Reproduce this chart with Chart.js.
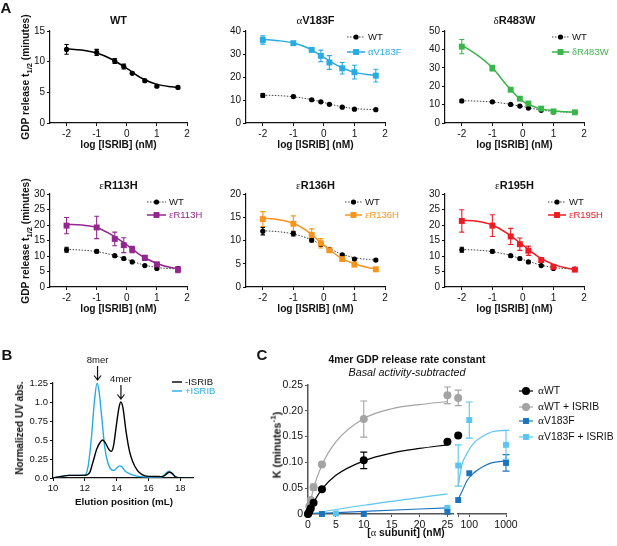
<!DOCTYPE html>
<html>
<head>
<meta charset="utf-8">
<script src="https://cdn.jsdelivr.net/npm/chart.js@4.4.1/dist/chart.umd.min.js"></script>
<style>
  html, body { margin: 0; padding: 0; background: #fff; }
  #fig { position: relative; width: 617px; height: 546px; overflow: hidden; background: #fff; }
  #fig canvas { position: absolute; }
  .t { position: absolute; white-space: nowrap; font-family: 'Liberation Sans', Arial, sans-serif;
       color: #111; line-height: 1; transform: translate(-50%, -50%); }
  .b { font-weight: bold; }
  .v { transform: translate(-50%, -50%) rotate(-90deg); }
  .g { font-family: 'Liberation Serif', serif; font-weight: normal; }
  sub, sup { font-size: 75%; line-height: 0; }
</style>
</head>
<body>
<div id="fig"></div>
<script>
// ---- Panel A: GDP release t1/2 vs log [ISRIB] ----
const logIsrib = [-2, -1, -0.4, -0.1, 0.18, 0.6, 1, 1.7];
const fitLog = [-2, -1.5, -1, -0.5, 0, 0.5, 1, 1.5, 1.7];
const xTicksA = [-2, -1, 0, 1, 2];

const wtT = [12.0, 11.5, 10.1, 9.2, 8.1, 6.9, 6.0, 5.8];
const wtErr = [0.8, 0.5, 0.4, 0.4, 0.2, 0.2, 0.2, 0.2];
const wtFit = [12.1, 11.9, 11.4, 10.4, 8.9, 7.3, 6.3, 5.9, 5.8];

const v183fT = [36.1, 34.7, 31.8, 29.2, 26.3, 23.8, 22.1, 20.6];
const v183fErr = [1.8, 0.5, 0.6, 2.5, 3.0, 2.5, 3.0, 2.8];
const v183fFit = [36.3, 35.8, 34.8, 32.5, 28.5, 24.6, 22.0, 21.0, 20.8];

const r483wT = [41.5, 29.8, 18.1, 13.2, 10.6, 7.8, 6.3, 5.8];
const r483wErr = [3.9, 1.5, 0.8, 0.6, 1.0, 0.5, 0.4, 0.4];
const r483wFit = [42.3, 37.0, 30.0, 20.0, 11.7, 8.1, 6.7, 6.0, 5.9];

const r113hT = [19.8, 19.2, 15.5, 13.5, 12.1, 9.4, 7.3, 5.6];
const r113hErr = [2.6, 3.6, 2.2, 2.4, 1.0, 0.8, 0.7, 1.0];
const r113hFit = [20.2, 20.0, 19.2, 16.8, 13.6, 10.0, 7.6, 6.2, 6.0];

const r136hT = [14.6, 13.6, 11.2, 9.4, 7.9, 6.0, 4.8, 3.8];
const r136hErr = [1.6, 1.7, 1.3, 1.0, 0.4, 0.4, 0.3, 0.4];
const r136hFit = [14.8, 14.5, 13.7, 11.8, 9.0, 6.5, 5.0, 4.1, 4.0];

const r195hT = [21.3, 19.8, 16.3, 13.8, 11.7, 8.7, 6.5, 5.6];
const r195hErr = [3.6, 3.5, 2.6, 2.0, 1.5, 0.6, 0.5, 0.4];
const r195hFit = [21.5, 21.2, 20.0, 17.2, 13.5, 9.8, 7.3, 6.0, 5.8];

// ---- Panel B: SEC traces ----
const minusX = [10, 10.5, 11, 11.5, 12, 12.3, 12.5, 12.75, 13.0, 13.12, 13.3, 13.5, 13.65, 13.8, 14.0, 14.15, 14.27, 14.4, 14.6, 14.8, 15.0, 15.3, 15.6, 16.0, 16.5, 16.8, 17.0, 17.3, 17.5, 17.7, 18.0, 18.5, 18.8];
const minusY = [0.0, 0.02, 0.035, 0.035, 0.035, 0.07, 0.2, 0.38, 0.48, 0.5, 0.46, 0.38, 0.35, 0.42, 0.72, 0.93, 1.0, 0.92, 0.6, 0.36, 0.22, 0.1, 0.045, 0.022, 0.02, 0.018, 0.03, 0.075, 0.06, 0.015, 0.003, 0.0, 0.0];
const plusX = [10, 10.5, 11, 11.5, 12, 12.2, 12.42, 12.6, 12.77, 12.9, 13.04, 13.25, 13.46, 13.67, 13.83, 14.0, 14.2, 14.3, 14.5, 14.8, 15.33, 15.96, 16.58, 16.9, 17.17, 17.3, 17.5, 17.83, 18.25, 18.8];
const plusY = [0.0, 0.02, 0.035, 0.035, 0.04, 0.145, 0.54, 1.0, 1.25, 1.13, 0.85, 0.41, 0.19, 0.11, 0.10, 0.13, 0.16, 0.155, 0.10, 0.057, 0.022, 0.013, 0.005, 0.02, 0.075, 0.088, 0.05, 0.004, 0.0, 0.0];
const xTicksB = [10, 12, 14, 16, 18];
const yTicksB = [0, 0.25, 0.5, 0.75, 1, 1.25];
const yLabelsB = ['0.0', '0.25', '0.5', '0.75', '1.0', '1.25'];

// ---- Panel C: rate constant vs [alpha subunit] ----
const wtConc = [0, 0.25, 0.5, 1, 2.5, 10, 25];
const wtK = [0, 0.005, 0.011, 0.022, 0.048, 0.104, 0.14];
const wtKErr = [0, 0, 0, 0, 0.002, 0.016, 0];
const wtIsribK = [0, 0.015, 0.027, 0.052, 0.096, 0.184, 0.23];
const wtIsribKErr = [0, 0.003, 0.003, 0.006, 0.003, 0.035, 0.016];
const v183fConc = [0, 2.5, 10, 25];
const v183fK = [0, 0.0, 0.0, 0.004];
const v183fIsribConc = [0, 5, 25];
const v183fIsribK = [0, 0.001, 0.012];

const highConcWt = [50];
const wtKHigh = [0.152];
const wtIsribKHigh = [0.225];
const wtIsribKHighErr = [0.015];
const highConc = [50, 100, 1000];
const v183fKHigh = [0.027, 0.079, 0.099];
const v183fKHighErr = [0, 0, 0.016];
const v183fIsribKHigh = [0.094, 0.182, 0.134];
const v183fIsribKHighErr = [0.04, 0.035, 0.028];

const fitLowX = [0, 1, 2.5, 5, 10, 15, 20, 25];
const wtFitLow = [0, 0.022, 0.048, 0.075, 0.103, 0.118, 0.127, 0.134];
const wtIsribFitLow = [0, 0.05, 0.095, 0.14, 0.185, 0.204, 0.212, 0.218];
const linFitX = [0, 10, 25];
const v183fFitLow = [0, 0.005, 0.012];
const v183fIsribFitLow = [0, 0.017, 0.039];
const fitHighX = [50, 63, 86, 130, 240, 400, 1000];
const v183fFitHigh = [0.029, 0.043, 0.064, 0.079, 0.092, 0.099, 0.103];
const v183fIsribFitHigh = [0.054, 0.095, 0.117, 0.137, 0.151, 0.159, 0.162];

const xTicksC = [0, 5, 10, 15, 20, 25];
const xTicksCHigh = [50, 100, 1000];
const xLabelsCHigh = ['', '100', '1000'];
const yTicksC = [0, 0.05, 0.1, 0.15, 0.2, 0.25];
const yLabelsC = ['0', '0.05', '0.10', '0.15', '0.20', '0.25'];

// colours
const BLUE = '#29ABE2', GREEN = '#3AB54A', PURPLE = '#93278F', ORANGE = '#F7941D', RED = '#ED1C24';
const GRAY = '#A3A3A3', DKBLUE = '#1C75BC', LTBLUE = '#5BC5F0';
const SANS = "'Liberation Sans', Arial, sans-serif";

const fig = document.getElementById('fig');

function label(html, x, y, cls, size) {
  const d = document.createElement('div');
  d.className = 't ' + (cls || '');
  d.style.left = x + 'px';
  d.style.top = y + 'px';
  d.style.fontSize = size + 'px';
  d.innerHTML = html;
  fig.appendChild(d);
}

function points(name, xs, ys, errs, color, style, r, cap) {
  return {
    label: name, data: xs.map((x, i) => ({x: x, y: ys[i]})), errors: errs, capW: cap,
    showLine: false, pointStyle: style, pointRadius: r, pointBorderWidth: 0,
    backgroundColor: color, borderColor: color, clip: false
  };
}

function curve(name, xs, ys, color, width, dash) {
  return {
    label: name, data: xs.map((x, i) => ({x: x, y: ys[i]})),
    showLine: true, pointRadius: 0, borderColor: color, borderWidth: width,
    borderDash: dash || [], cubicInterpolationMode: 'monotone', fill: false
  };
}

function axis(min, max, ticks, size, labels, type, col, bw) {
  return {
    type: type || 'linear', min: min, max: max,
    afterBuildTicks: s => { s.ticks = ticks.map(v => ({value: v})); },
    ticks: {
      font: {size: size, family: SANS}, color: '#111', padding: 2, autoSkip: false, maxRotation: 0,
      callback: labels ? ((v, i) => labels[i]) : (v => String(v))
    },
    grid: {display: true, drawOnChartArea: false, drawTicks: true, tickLength: 3, color: col || '#111', lineWidth: 1},
    border: {display: true, color: col || '#111', width: bw || 1.2}
  };
}

// error bars, drawn under the markers
const errorBars = {
  id: 'errorBars',
  beforeDatasetsDraw(chart) {
    const ctx = chart.ctx, xs = chart.scales.x, ys = chart.scales.y;
    chart.data.datasets.forEach(ds => {
      if (!ds.errors) return;
      ctx.save();
      ctx.strokeStyle = ds.borderColor;
      ctx.lineWidth = 1.1;
      ds.data.forEach((p, i) => {
        const e = ds.errors[i];
        if (!e) return;
        const px = xs.getPixelForValue(p.x);
        const top = ys.getPixelForValue(p.y + e), bot = ys.getPixelForValue(p.y - e);
        const c = ds.capW || 2.5;
        ctx.beginPath();
        ctx.moveTo(px, top); ctx.lineTo(px, bot);
        ctx.moveTo(px - c, top); ctx.lineTo(px + c, top);
        ctx.moveTo(px - c, bot); ctx.lineTo(px + c, bot);
        ctx.stroke();
      });
      ctx.restore();
    });
  }
};

function richText(ctx, s, x, y, size, color) {
  let cx = x;
  ctx.fillStyle = color;
  ctx.textBaseline = 'middle';
  s.split(/([αδε])/).forEach(run => {
    if (!run) return;
    ctx.font = /[αδε]/.test(run) ? (size + 1) + "px 'Liberation Serif'" : size + 'px ' + SANS;
    ctx.fillText(run, cx, y);
    cx += ctx.measureText(run).width;
  });
}

function marker(ctx, style, x, y, r, color) {
  ctx.fillStyle = color;
  ctx.beginPath();
  if (style === 'rect') {
    const s = r * Math.SQRT1_2;
    ctx.rect(x - s, y - s, 2 * s, 2 * s);
  } else {
    ctx.arc(x, y, r, 0, Math.PI * 2);
  }
  ctx.fill();
}

// legend with line + marker, page coordinates
function lineLegend(items, size) {
  return {
    id: 'lineLegend',
    afterDraw(chart) {
      const ctx = chart.ctx;
      const ox = parseFloat(chart.canvas.style.left), oy = parseFloat(chart.canvas.style.top);
      const find = l => chart.data.datasets.find(d => d.label === l);
      items.forEach(it => {
        const ln = find(it.line), pt = it.point ? find(it.point) : null;
        const x0 = it.x0 - ox, x1 = it.x1 - ox, y = it.y - oy;
        ctx.save();
        ctx.strokeStyle = ln.borderColor;
        ctx.lineWidth = ln.borderWidth;
        ctx.setLineDash(ln.borderDash || []);
        ctx.beginPath(); ctx.moveTo(x0, y); ctx.lineTo(x1, y); ctx.stroke();
        ctx.setLineDash([]);
        if (pt) marker(ctx, pt.pointStyle, (x0 + x1) / 2, y, pt.pointRadius, pt.backgroundColor);
        richText(ctx, it.text, it.tx - ox, y, size, it.color);
        ctx.restore();
      });
    }
  };
}

// arrow + label pointing at a data value
function arrowNotes(notes, size) {
  return {
    id: 'arrowNotes',
    afterDraw(chart) {
      const ctx = chart.ctx, xs = chart.scales.x, ys = chart.scales.y;
      ctx.save();
      ctx.strokeStyle = '#111'; ctx.fillStyle = '#111'; ctx.lineWidth = 1.2;
      notes.forEach(n => {
        const px = xs.getPixelForValue(n.x), py = ys.getPixelForValue(n.y);
        const tip = py - 3, tail = py - 17;
        ctx.beginPath();
        ctx.moveTo(px, tail); ctx.lineTo(px, tip);
        ctx.moveTo(px - 3.5, tip - 4.5); ctx.lineTo(px, tip); ctx.lineTo(px + 3.5, tip - 4.5);
        ctx.stroke();
        ctx.font = size + 'px ' + SANS;
        ctx.textAlign = 'center'; ctx.textBaseline = 'middle';
        ctx.fillText(n.text, px, tail - 6);
      });
      ctx.restore();
    }
  };
}

// one chart whose plot area lands on the given page rectangle
function panel(area, yw, xh, pad, datasets, scales, extra) {
  const cv = document.createElement('canvas');
  const left = area.l - yw - pad[3], top = area.t - pad[0];
  const w = area.r - area.l + yw + pad[3] + pad[1];
  const h = area.b - area.t + xh + pad[0] + pad[2];
  cv.width = w; cv.height = h;
  cv.style.left = left + 'px'; cv.style.top = top + 'px';
  cv.style.width = w + 'px'; cv.style.height = h + 'px';
  fig.appendChild(cv);
  scales.x.afterFit = s => { s.height = xh; };
  if (scales.y.display !== false) scales.y.afterFit = s => { s.width = yw; };
  return new Chart(cv, {
    type: 'scatter',
    data: {datasets: datasets},
    options: {
      responsive: false, animation: false, events: [],
      layout: {padding: {top: pad[0], right: pad[1], bottom: pad[2], left: pad[3]}},
      scales: scales,
      plugins: {legend: {display: false}, tooltip: {enabled: false}}
    },
    plugins: [errorBars].concat(extra || [])
  });
}

// ---------------- Panel A ----------------
const panelsA = [
  {area: {l: 50, r: 187, t: 31, b: 123}, ty: 20, title: 'WT', ymax: 15, yt: [0, 5, 10, 15]},
  {area: {l: 246, r: 385, t: 31, b: 123}, ty: 20, title: '<span class="g">α</span>V183F', mut: 'αV183F',
   y: v183fT, err: v183fErr, fit: v183fFit, color: BLUE, ymax: 40, yt: [0, 10, 20, 30, 40],
   leg: {x0: 347, x1: 365, tx: 368, y: [37, 52]}},
  {area: {l: 445, r: 584, t: 31, b: 123}, ty: 20, title: '<span class="g">δ</span>R483W', mut: 'δR483W',
   y: r483wT, err: r483wErr, fit: r483wFit, color: GREEN, ymax: 50, yt: [0, 10, 20, 30, 40, 50],
   leg: {x0: 552, x1: 569, tx: 572, y: [37, 52]}},
  {area: {l: 50, r: 187, t: 194, b: 287}, ty: 185, title: '<span class="g">ε</span>R113H', mut: 'εR113H',
   y: r113hT, err: r113hErr, fit: r113hFit, color: PURPLE, ymax: 30, yt: [0, 5, 10, 15, 20, 25, 30],
   leg: {x0: 147, x1: 166, tx: 169, y: [202, 215]}},
  {area: {l: 246, r: 385, t: 194, b: 287}, ty: 185, title: '<span class="g">ε</span>R136H', mut: 'εR136H',
   y: r136hT, err: r136hErr, fit: r136hFit, color: ORANGE, ymax: 20, yt: [0, 5, 10, 15, 20],
   leg: {x0: 345, x1: 362, tx: 365, y: [202, 215]}},
  {area: {l: 445, r: 584, t: 194, b: 287}, ty: 185, title: '<span class="g">ε</span>R195H', mut: 'εR195H',
   y: r195hT, err: r195hErr, fit: r195hFit, color: RED, ymax: 30, yt: [0, 5, 10, 15, 20, 25, 30],
   leg: {x0: 548, x1: 566, tx: 569, y: [202, 215]}}
];

panelsA.forEach((p, k) => {
  const ds = [];
  if (p.mut) {
    ds.push(points(p.mut, logIsrib, p.y, p.err, p.color, 'rect', 4.2, 2.5));
    ds.push(curve(p.mut + ' fit', fitLog, p.fit, p.color, 1.5));
  }
  ds.push(points('WT', logIsrib, wtT, wtErr, '#000', 'circle', 2.6, 2.2));
  ds.push(p.mut ? curve('WT fit', fitLog, wtFit, '#444', 1, [1.5, 1.5])
                : curve('WT fit', fitLog, wtFit, '#000', 1.5));
  const extra = [];
  if (p.leg) {
    extra.push(lineLegend([
      {text: 'WT', line: 'WT fit', point: 'WT', color: '#111', x0: p.leg.x0, x1: p.leg.x1, tx: p.leg.tx, y: p.leg.y[0]},
      {text: p.mut, line: p.mut + ' fit', point: p.mut, color: p.color, x0: p.leg.x0, x1: p.leg.x1, tx: p.leg.tx, y: p.leg.y[1]}
    ], 9.5));
  }
  panel(p.area, 22, 20, [10, 26, 2, 2], ds, {
    x: axis(-2.55, 2, xTicksA, 10),
    y: axis(0, p.ymax, p.yt, 10)
  }, extra);
  const cx = (p.area.l + p.area.r) / 2;
  label(p.title, cx, p.ty, 'b', 11);
  label('log [ISRIB] (nM)', cx, p.area.b + 22, 'b', 10.2);
  if (k % 3 === 0) label('GDP release t<sub>1/2</sub> (minutes)', 26, (p.area.t + p.area.b) / 2, 'b v', 10.2);
});

label('A', 6, 7, 'b', 15);

// ---------------- Panel B ----------------
panel({l: 53, r: 193, t: 383, b: 478}, 28, 18, [30, 30, 2, 2], [
  curve('-ISRIB', minusX, minusY, '#000', 1.4),
  curve('+ISRIB', plusX, plusY, BLUE, 1.4)
], {
  x: axis(10, 18.8, xTicksB, 9.5),
  y: axis(0, 1.25, yTicksB, 9.5, yLabelsB)
}, [
  lineLegend([
    {text: '-ISRIB', line: '-ISRIB', color: '#111', x0: 172, x1: 182, tx: 185, y: 382},
    {text: '+ISRIB', line: '+ISRIB', color: BLUE, x0: 172, x1: 182, tx: 185, y: 391}
  ], 9.5),
  arrowNotes([{x: 12.8, y: 1.25, text: '8mer'}, {x: 14.27, y: 1.0, text: '4mer'}], 9.5)
]);
label('B', 7, 354, 'b', 15);
label('Normalized UV abs.', 20, 428, 'b v', 10);
label('Elution position (mL)', 124, 502, 'b', 9.8);

// ---------------- Panel C ----------------
panel({l: 308, r: 453, t: 385, b: 514}, 30, 18, [10, 8, 2, 2], [
  points('αWT', wtConc, wtK, wtKErr, '#000', 'circle', 4, 3.5),
  points('αWT + ISRIB', wtConc, wtIsribK, wtIsribKErr, GRAY, 'circle', 4, 3.5),
  points('αV183F', v183fConc, v183fK, null, DKBLUE, 'rect', 4.2, 3.5),
  points('αV183F + ISRIB', v183fIsribConc, v183fIsribK, null, LTBLUE, 'rect', 4.2, 3.5),
  curve('αWT fit', fitLowX, wtFitLow, '#000', 1.2),
  curve('αWT + ISRIB fit', fitLowX, wtIsribFitLow, GRAY, 1.2),
  curve('αV183F fit', linFitX, v183fFitLow, DKBLUE, 1.2),
  curve('αV183F + ISRIB fit', linFitX, v183fIsribFitLow, LTBLUE, 1.2)
], {
  x: axis(0, 26, xTicksC, 10.5, null, 'linear', '#555', 1.5),
  y: axis(0, 0.25, yTicksC, 10.5, yLabelsC, 'linear', '#555', 1.5)
});

const yHigh = axis(0, 0.25, yTicksC, 10.5, yLabelsC);
yHigh.display = false;
const legC = [
  {text: 'αWT', line: 'αWT fit', point: 'αWT', y: 391},
  {text: 'αWT + ISRIB', line: 'αWT + ISRIB fit', point: 'αWT + ISRIB', y: 407},
  {text: 'αV183F', line: 'αV183F fit', point: 'αV183F', y: 421},
  {text: 'αV183F + ISRIB', line: 'αV183F + ISRIB fit', point: 'αV183F + ISRIB', y: 437}
].map(it => Object.assign(it, {color: '#111', x0: 519, x1: 533, tx: 538}));

panel({l: 458, r: 506, t: 385, b: 514}, 0, 18, [10, 111, 2, 4], [
  points('αWT', highConcWt, wtKHigh, null, '#000', 'circle', 4, 3.5),
  points('αWT + ISRIB', highConcWt, wtIsribKHigh, wtIsribKHighErr, GRAY, 'circle', 4, 3.5),
  points('αV183F', highConc, v183fKHigh, v183fKHighErr, DKBLUE, 'rect', 4.2, 3.5),
  points('αV183F + ISRIB', highConc, v183fIsribKHigh, v183fIsribKHighErr, LTBLUE, 'rect', 4.2, 3.5),
  curve('αWT fit', [], [], '#000', 1.2),
  curve('αWT + ISRIB fit', [], [], GRAY, 1.2),
  curve('αV183F fit', fitHighX, v183fFitHigh, DKBLUE, 1.2),
  curve('αV183F + ISRIB fit', fitHighX, v183fIsribFitHigh, LTBLUE, 1.2)
], {
  x: axis(50, 1000, xTicksCHigh, 10.5, xLabelsCHigh, 'logarithmic', '#555', 1.5),
  y: yHigh
}, [lineLegend(legC, 10.4)]);

label('C', 262, 354, 'b', 15);
label('4mer GDP release rate constant', 407, 360, 'b', 10.4);
label('<i>Basal activity-subtracted</i>', 407, 372, '', 10.8);
label('K (minutes<sup>-1</sup>)', 277, 445, 'b v', 10.8);
label('[<span class="g">α</span> subunit] (nM)', 406, 533, 'b', 10.4);
</script>
</body>
</html>
